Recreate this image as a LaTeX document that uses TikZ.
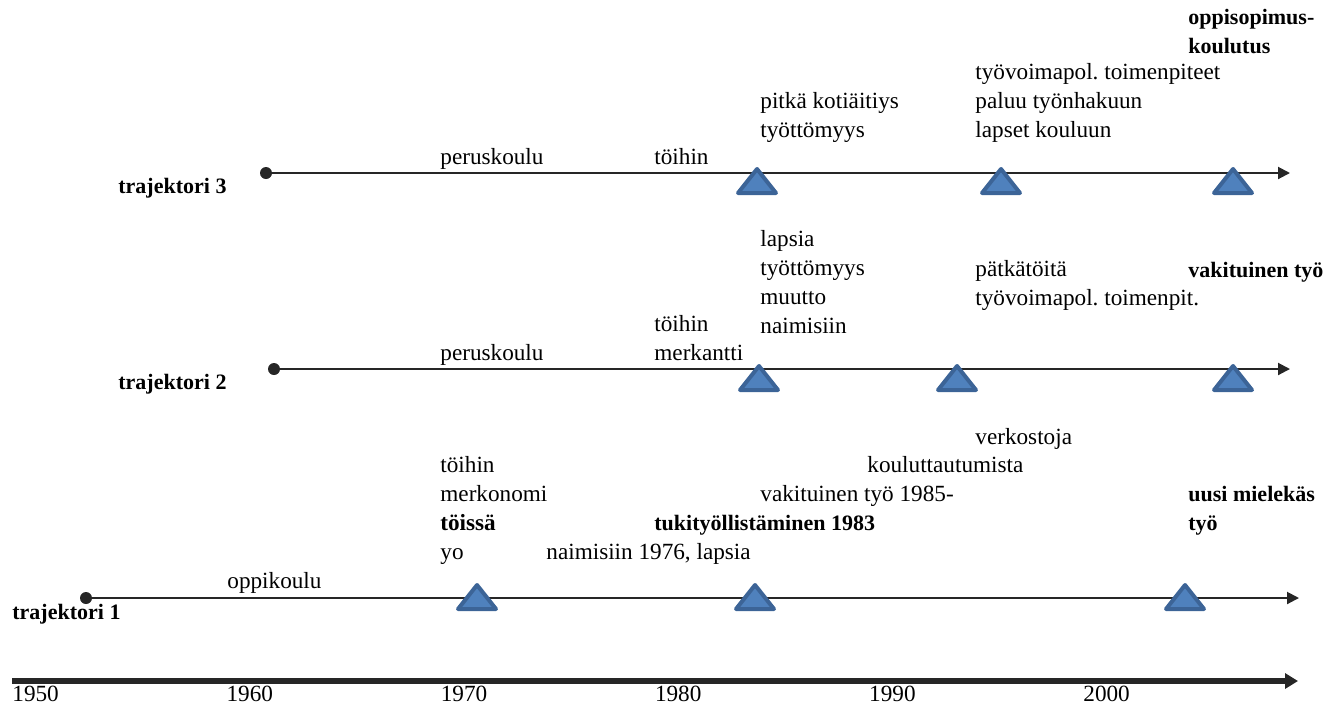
\documentclass[tikz,border=0pt]{standalone}
\usepackage{fontspec}
\setmainfont{Liberation Serif}
\usetikzlibrary{positioning,arrows.meta}
\definecolor{msfill}{HTML}{4F81BD}
\definecolor{msline}{HTML}{3C6497}
\definecolor{linegray}{HTML}{262626}
\frenchspacing

\begin{document}
\begin{tikzpicture}[
		x=0.5pt,y=-0.5pt,
		every node/.style={
			inner sep=0pt,
			anchor=base west,
			align=left,
			font=\fontsize{11.6}{14.35}\selectfont
		},
		evb/.style={font=\fontsize{11}{14.35}\selectfont\bfseries},
		startdot/.style={circle,fill=linegray,minimum size=6pt,anchor=center},
		traj/.style={draw=linegray,line width=1pt,-{Triangle[length=6pt,width=6pt]}},
		milestone/.style={fill=msfill,draw=msline,line width=2pt,line join=round}
		]
		
		\useasboundingbox (0,0) rectangle (1332,709);
		
		% time axis
		\coordinate (axstart) at (12,681);
		\coordinate (axend) at (1298,681);
		\draw[draw=linegray,line width=2.8pt,-{Triangle[length=6.5pt,width=7.5pt]}] (axstart)--(axend);
		\foreach \yr [count=\i from 0] in {1950,1960,1970,1980,1990,2000}
		\node (y\yr) at (12+214.2*\i,701) {\yr};
		
		% trajektori 3 (multi-line nodes sit on their last line)
		\node[evb] (t3) at (118,193) {trajektori 3};
		\node[startdot] (s3) at (266,173) {};
		\coordinate (e3) at (1290,173);
		\draw[traj] (s3)--(e3);
		\node (t3a) at (440,164) {peruskoulu};
		\node (t3b) at (654,164) {töihin};
		\node (t3c) at (760,137) {pitkä kotiäitiys\\työttömyys};
		\node (t3d) at (975,137) {työvoimapol. toimenpiteet\\paluu työnhakuun\\lapset kouluun};
		\node[evb] (t3e) at (1188,53) {oppisopimus-\\koulutus};
		
		% trajektori 2
		\node[evb] (t2) at (118,389) {trajektori 2};
		\node[startdot] (s2) at (274,369) {};
		\coordinate (e2) at (1290,369);
		\draw[traj] (s2)--(e2);
		\node (t2a) at (440,360) {peruskoulu};
		\node (t2b) at (654,360) {töihin\\merkantti};
		\node (t2c) at (760,333) {lapsia\\työttömyys\\muutto\\naimisiin};
		\node (t2d) at (975,305) {pätkätöitä\\työvoimapol. toimenpit.};
		\node[evb] (t2e) at (1188,277) {vakituinen työ};
		
		% trajektori 1
		\node[evb] (t1) at (12,619) {trajektori 1};
		\node[startdot] (s1) at (86,598) {};
		\coordinate (e1) at (1299,598);
		\draw[traj] (s1)--(e1);
		\node (t1a) at (227,588) {oppikoulu};
		\node (t1b) at (440,559) {töihin\\merkonomi\\\textbf{töissä}\\yo};
		\node (t1c) at (546,559) {naimisiin 1976, lapsia};
		\node[evb] (t1d) at (654,530) {tukityöllistäminen 1983};
		\node (t1e) at (760,501) {vakituinen työ 1985-};
		\node (t1f) at (867,472) {kouluttautumista};
		\node (t1g) at (975,444) {verkostoja};
		\node[evb] (t1h) at (1188,530) {uusi mielekäs\\työ};
		
		% milestones
		\foreach \x/\y in {757/181,1001/181,1233/181,759/378,957/378,1233/378,477/597,755/597,1185/597}
		\draw[milestone] (\x-19,\y+12)--(\x,\y-12)--(\x+19,\y+12)--cycle;
		
	\end{tikzpicture}
\end{document}
